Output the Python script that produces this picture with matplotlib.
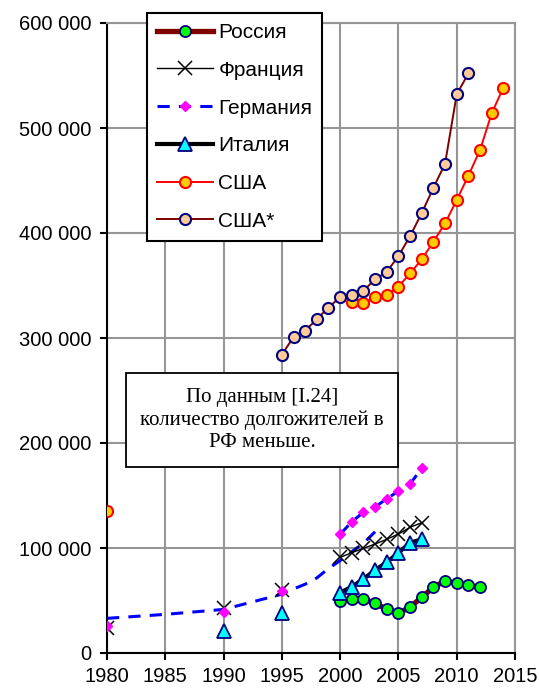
import numpy as np
import matplotlib
matplotlib.use("Agg")
import matplotlib.pyplot as plt
from matplotlib.ticker import FuncFormatter
from matplotlib.patches import Rectangle

nan = np.nan

# ---- data ----
russia_years = list(range(2000, 2013))
russia_vals = [49800, 51400, 51400, 47300, 41600, 37800, 43800, 53000, 62600, 68600, 66300, 64400, 62600]

france_years = [1980, 1985, 1990, 1992, 1995, 1997] + list(range(2000, 2008))
france_vals = [24000, nan, 43000, nan, 60000, nan,
               91100, 95500, 99700, 103800, 108300, 113300, 119700, 124100]

germany_years = [1980, 1985, 1990, 1992, 1995, 1997] + list(range(2000, 2008))
germany_vals = [26000, nan, 39000, nan, 59000, nan,
                113000, 125000, 134000, 139000, 147000, 154000, 161000, 176000]

trend_years = [1980, 1985, 1990, 1995, 1996, 1997, 1998, 1999, 2000, 2001, 2002, 2003]
trend_vals = [33000, 36800, 41500, 56000, 61000, 65500, 71500, 80500, 88000, 96500, 104500, 115500]

italy_years = [1990, 1992, 1995, 1997] + list(range(2000, 2008))
italy_vals = [21000, nan, 38000, nan,
              57400, 63100, 70500, 79000, 86400, 95500, 105000, 108300]

usa_years = [1980, 1990] + list(range(2001, 2015))
usa_vals = [135000, nan,
            334600, 333000, 339300, 341000, 348900, 361600, 374900, 391700,
            409200, 431400, 454600, 479000, 514000, 538400]

usa2_years = list(range(1995, 2012))
usa2_vals = [284000, 301000, 307000, 318000, 329000, 339000, 341000, 345000, 356000,
             363000, 378000, 397000, 419000, 443000, 466000, 532000, 552000]

labels = ["Россия", "Франция", "Германия", "Италия", "США", "США*"]
x_ticks = list(range(1980, 2016, 5))
y_ticks = list(range(0, 600001, 100000))
note = "По данным [I.24]\nколичество долгожителей в\nРФ меньше."

# ---- figure ----
plt.rcParams['font.family'] = ['Liberation Sans', 'DejaVu Sans']
fig = plt.figure(figsize=(5.4, 6.96), dpi=100)
ax = fig.add_axes([107/540, 43/696, 408/540, 630/696])

ax.plot(trend_years, trend_vals, color='#0000FF', lw=2.2, ls=(0, (4, 3)), zorder=3)

ax.plot(russia_years, russia_vals, color='#800000', lw=3.8, marker='o', ms=8,
        mfc='#00FF00', mec='#000080', mew=1.3, label=labels[0], zorder=4)
ax.plot(france_years, france_vals, color='black', lw=1.0, marker='x', ms=9.5,
        mec='black', mew=1.1, label=labels[1], zorder=4)
ax.plot(germany_years, germany_vals, color='#0000FF', lw=2.2, ls=(0, (4, 3)), marker='D', ms=5,
        mfc='#FF00FF', mec='#FF00FF', label=labels[2], zorder=4)
ax.plot(italy_years, italy_vals, color='black', lw=3, marker='^', ms=9.5,
        mfc='#00FFFF', mec='#000080', mew=1.3, label=labels[3], zorder=5)
ax.plot(usa_years, usa_vals, color='#FF0000', lw=1.4, marker='o', ms=8,
        mfc='#FFCC00', mec='#FF0000', mew=1.5, label=labels[4], zorder=4)
ax.plot(usa2_years, usa2_vals, color='#800000', lw=1.4, marker='o', ms=8,
        mfc='#FFCC99', mec='#000080', mew=1.5, label=labels[5], zorder=4)

ax.set_xlim(1980, 2015)
ax.set_ylim(0, 600000)
ax.set_xticks(x_ticks)
ax.set_yticks(y_ticks)
ax.yaxis.set_major_formatter(FuncFormatter(lambda v, p: f"{int(v):,}".replace(",", " ")))
ax.grid(True, color='#969696', lw=1.5, zorder=0)
ax.set_axisbelow(True)
for s in ['top', 'right']:
    ax.spines[s].set_color('#969696')
    ax.spines[s].set_linewidth(1.5)
for s in ['left', 'bottom']:
    ax.spines[s].set_color('black')
    ax.spines[s].set_linewidth(1.5)
ax.tick_params(axis='both', direction='out', length=5, width=1.5, color='black',
               labelsize=14.5)
ax.tick_params(axis='y', pad=6)
ax.tick_params(axis='x', pad=5)

leg = ax.legend(loc='upper left', bbox_to_anchor=((147-107)/408, (653-13)/630),
                fontsize=15, frameon=True, fancybox=False, framealpha=1,
                edgecolor='black', borderaxespad=0, handlelength=2.7,
                handletextpad=0.25, labelspacing=0.9, borderpad=0.48)
leg.get_frame().set_linewidth(1.5)
leg.set_zorder(10)

x0, x1 = (126-107)/408, (398-107)/408
y0, y1 = (653-467)/630, (653-373)/630
ax.add_patch(Rectangle((x0, y0), x1-x0, y1-y0, transform=ax.transAxes,
                       facecolor='white', edgecolor='black', lw=1.3, zorder=9))
ax.text((x0+x1)/2, (y0+y1)/2, note, transform=ax.transAxes, ha='center', va='center',
        family=['Liberation Serif', 'DejaVu Serif'], fontsize=15, linespacing=1.2, zorder=10)

fig.savefig("out.png", dpi=100)
